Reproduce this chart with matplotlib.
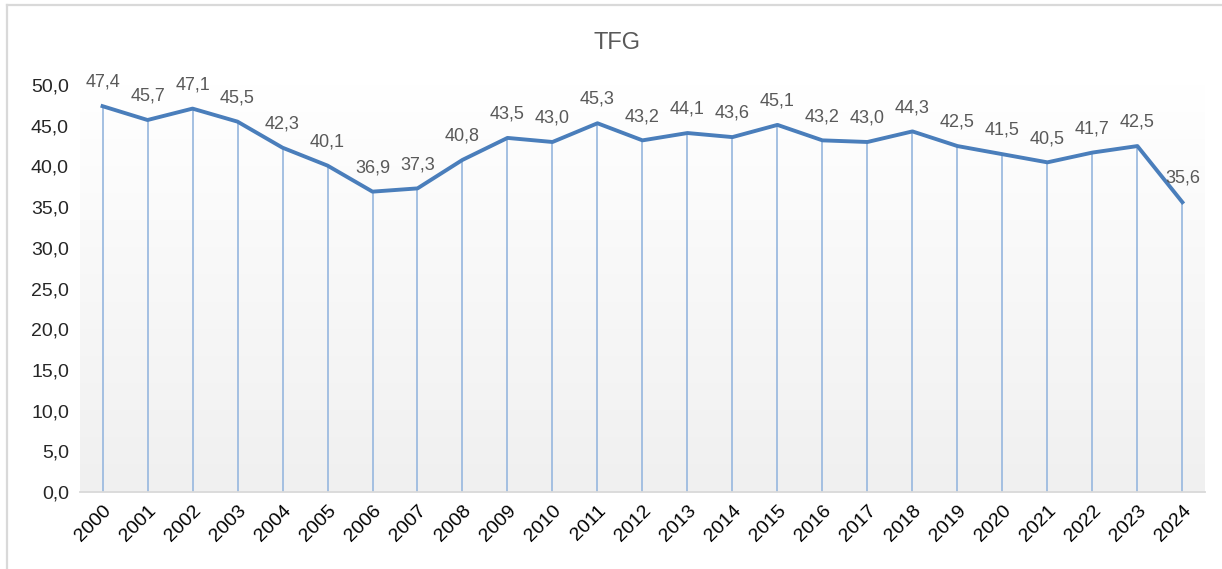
import numpy as np
import matplotlib.pyplot as plt
from matplotlib.lines import Line2D
from matplotlib.colors import LinearSegmentedColormap

# --- data ---
years = [str(y) for y in range(2000, 2025)]
tfg = [47.4, 45.7, 47.1, 45.5, 42.3, 40.1, 36.9, 37.3, 40.8, 43.5, 43.0, 45.3, 43.2,
       44.1, 43.6, 45.1, 43.2, 43.0, 44.3, 42.5, 41.5, 40.5, 41.7, 42.5, 35.6]
yticks = [0, 5, 10, 15, 20, 25, 30, 35, 40, 45, 50]

plt.rcParams['font.family'] = ['Liberation Sans', 'DejaVu Sans']

fig = plt.figure(figsize=(12.22, 5.69), dpi=100)
ax = fig.add_axes([0.0655, 0.1353, 0.9205, 0.7153])

x = np.arange(len(years))

# plot area gradient: white at top, light gray at bottom
grad = np.linspace(0, 1, 256).reshape(-1, 1)
cmap = LinearSegmentedColormap.from_list("bg", ["#f0f0f0", "#ffffff"])
ax.imshow(grad, cmap=cmap, aspect="auto", origin="lower",
          extent=[-0.5, len(years) - 0.5, 0, 50], zorder=0)

# drop lines
ax.vlines(x, 0, tfg, color="#9dbbe0", lw=1.3, zorder=1)
# main line
ax.plot(x, tfg, color="#4a7ebb", lw=2.8, solid_joinstyle="round", zorder=3)

for xi, v in zip(x, tfg):
    ax.annotate(f"{v:.1f}".replace(".", ","), (xi, v), xytext=(0, 11),
                textcoords="offset points", ha="center", va="bottom",
                fontsize=13, color="#595959", zorder=4)

ax.set_xlim(-0.5, len(years) - 0.5)
ax.set_ylim(0, 50)
ax.set_yticks(yticks)
ax.set_yticklabels([f"{t:.1f}".replace(".", ",") for t in yticks], fontsize=14,
                   color="#262626")
ax.set_xticks(x)
ax.set_xticklabels(years, rotation=45, ha="right", va="top", rotation_mode="anchor",
                   fontsize=14, color="#000000")
ax.tick_params(axis="both", length=0)
ax.tick_params(axis="y", pad=8)
ax.tick_params(axis="x", pad=7)

for s in ["top", "right", "left"]:
    ax.spines[s].set_visible(False)
ax.spines["bottom"].set_color("#d9d9d9")
ax.spines["bottom"].set_linewidth(1.3)
ax.spines["bottom"].set_zorder(2)

fig.text(0.505, 0.925, "TFG", ha="center", va="center", fontsize=17, color="#595959")

# chart border (top and left edges visible)
fig.add_artist(Line2D([7 / 1222, 1], [1 - 5 / 569, 1 - 5 / 569], color="#d9d9d9", lw=1.6))
fig.add_artist(Line2D([7 / 1222, 7 / 1222], [0, 1 - 5 / 569], color="#d9d9d9", lw=1.6))

fig.savefig("out.png", dpi=100)
